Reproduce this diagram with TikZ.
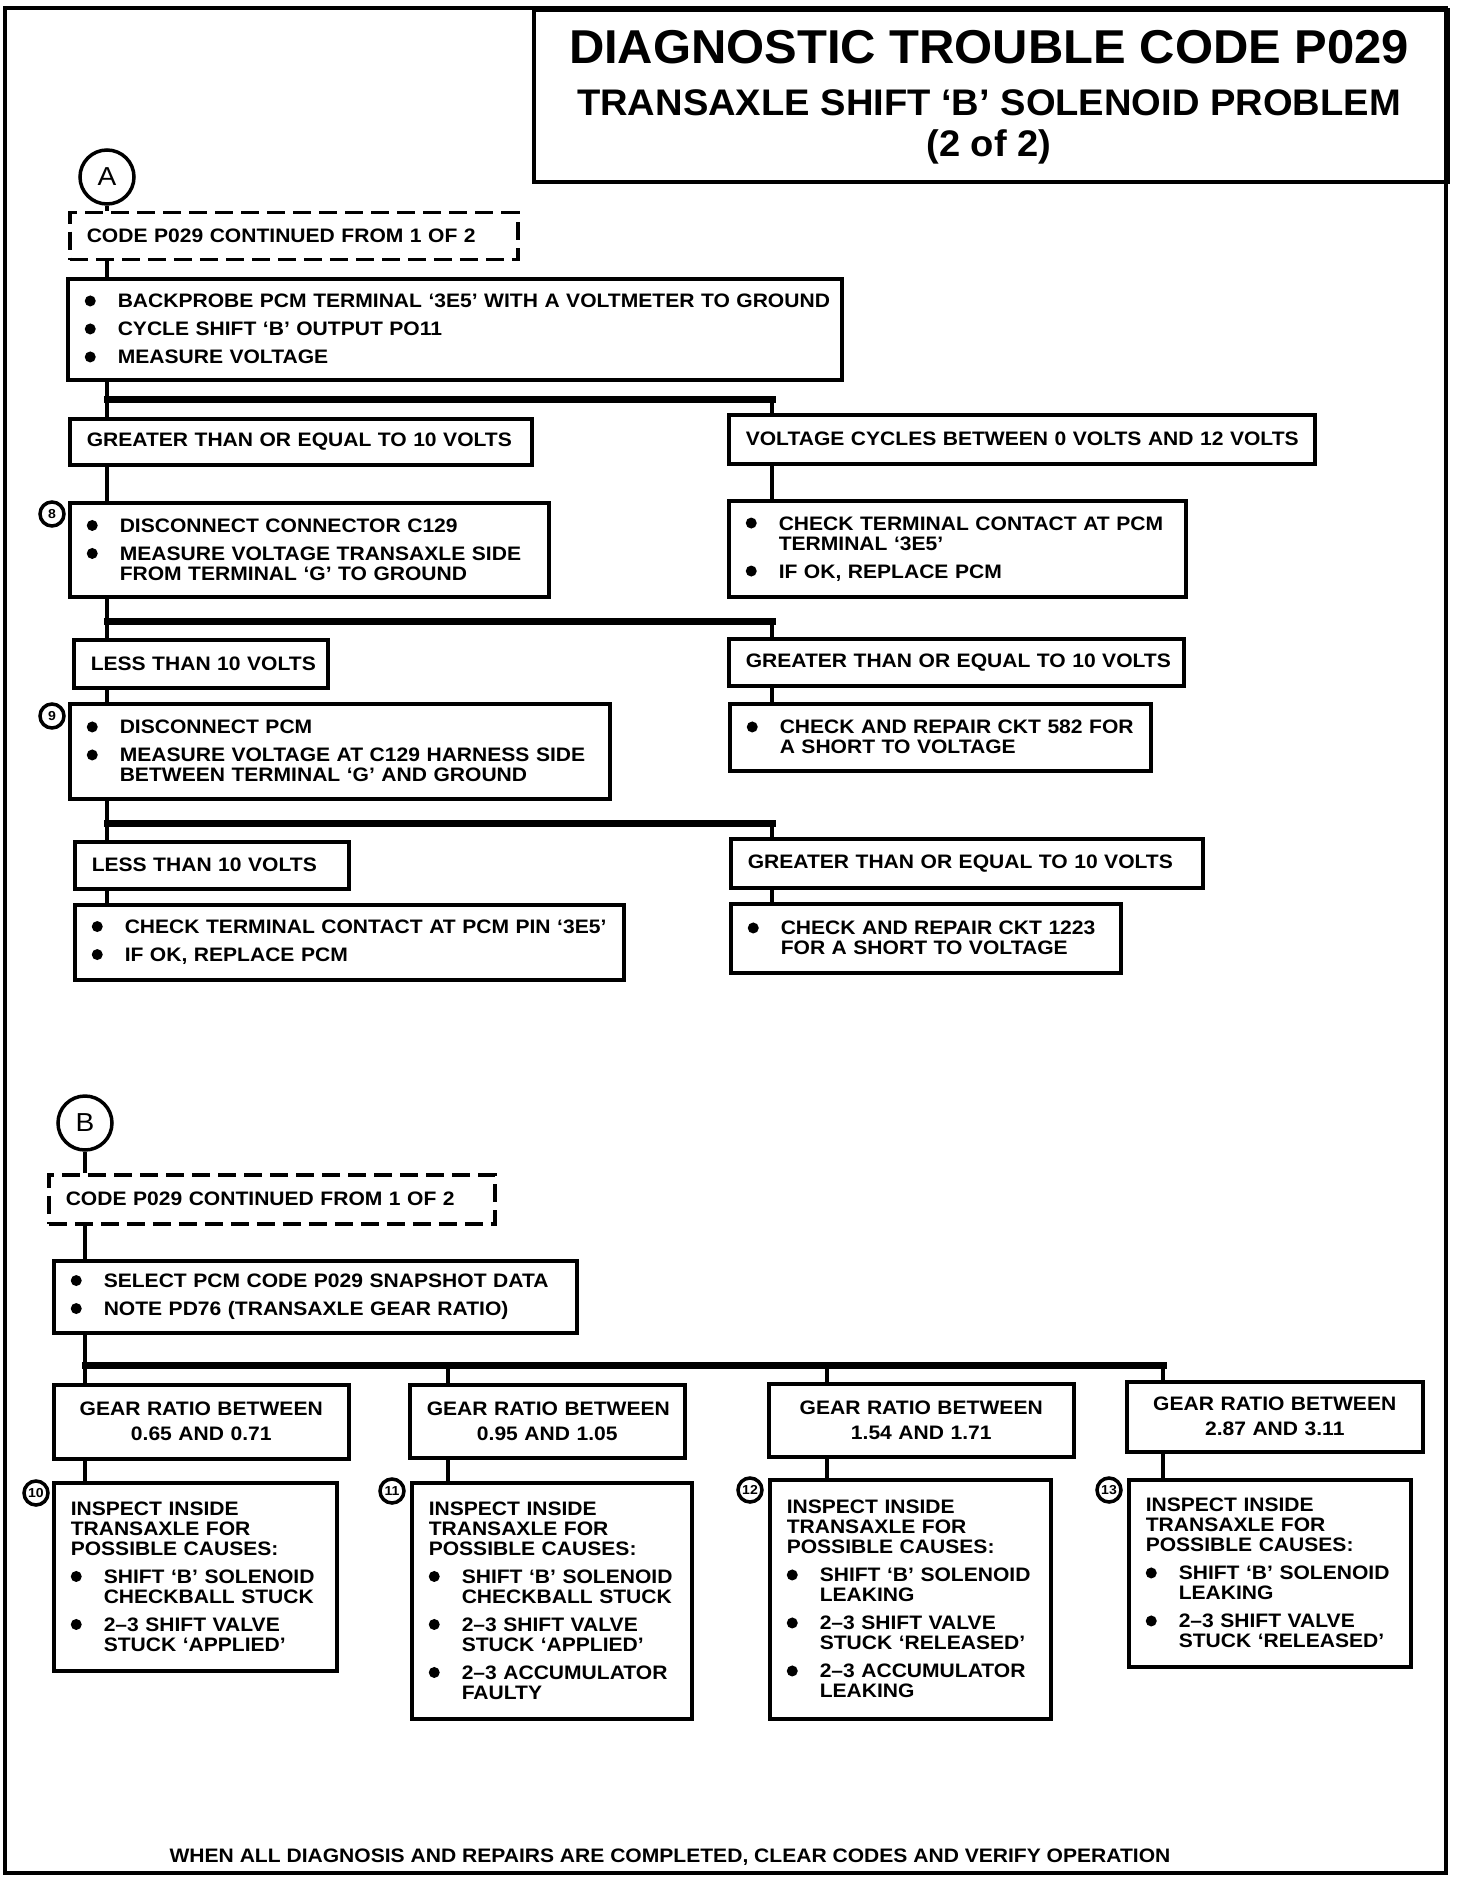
\documentclass[tikz,border=0pt]{standalone}
\usepackage{fontspec}
\setmainfont{Liberation Sans}
\newfontfamily\bodyfont{Liberation Sans}[FakeStretch=1.08]
\newfontfamily\headfont{Liberation Sans}[FakeStretch=1.03]
% punkt og indrykning
\newcommand{\bitem}[1]{\makebox[33pt][l]{\tikz[baseline=0pt]\fill (5.5pt,7pt) circle (5.5pt);}\mbox{#1}}
\newcommand{\bcont}[1]{\hspace*{33pt}\mbox{#1}}

\tikzset{
 box/.style={draw, line width=3.5pt, anchor=north west, inner xsep=17pt, inner ysep=0pt, align=left, font=\bodyfont\bfseries\fontsize{19.5}{20}\selectfont},
 dashbox/.style={box, dash pattern=on 18pt off 8pt},
 gearbox/.style={box, align=center},
 conn/.style={circle, draw, line width=3.5pt, fill=white, minimum size=54pt, inner sep=0pt, font=\bodyfont\fontsize{26}{26}\selectfont},
 num/.style={circle, draw, line width=3.5pt, fill=white, minimum size=24pt, inner sep=0pt, font=\bodyfont\bfseries\fontsize{13}{13}\selectfont},
 link/.style={line width=4.5pt},
 bar/.style={line width=7pt, line cap=rect}
}

\begin{document}
\begin{tikzpicture}[x=1pt, y=-1pt]
\useasboundingbox (0,0) rectangle (1472,1878);
% ramme og titel
\draw[line width=4pt] (5,8) rectangle (1446,1873);
\node[draw, line width=4pt, anchor=north west, minimum width=914pt, minimum height=172pt, inner sep=0pt] (titlebox) at (532,8) {};
\node[font=\headfont\bfseries\fontsize{47.5}{50}\selectfont] (title1) at (989,47) {DIAGNOSTIC TROUBLE CODE P029};
\node[font=\headfont\bfseries\fontsize{37}{40}\selectfont] (title2) at (989,103) {TRANSAXLE SHIFT ‘B’ SOLENOID PROBLEM};
\node[font=\headfont\bfseries\fontsize{37}{40}\selectfont] (title3) at (989,147) {(2 of 2)};

% del A
\node[conn] (A) at (107,177) {A};
\node[dashbox, text width=414pt, minimum height=47pt] (cont1) at (68,211) {\mbox{CODE P029 CONTINUED FROM 1 OF 2}};
\node[box, text width=740pt, minimum height=101pt] (probe) at (66,277) {\bitem{BACKPROBE PCM TERMINAL ‘3E5’ WITH A VOLTMETER TO GROUND}\\[8pt]
 \bitem{CYCLE SHIFT ‘B’ OUTPUT PO11}\\[8pt]
 \bitem{MEASURE VOLTAGE}};

\node[box, text width=428pt, minimum height=46pt] (ge1) at (68,417) {\mbox{GREATER THAN OR EQUAL TO 10 VOLTS}};
\node[box, text width=552pt, minimum height=49pt] (vc) at (727,413) {\mbox{VOLTAGE CYCLES BETWEEN 0 VOLTS AND 12 VOLTS}};
\node[box, text width=445pt, minimum height=94pt] (dis8) at (68,501) {\bitem{DISCONNECT CONNECTOR C129}\\[8pt]
 \bitem{MEASURE VOLTAGE TRANSAXLE SIDE}\\
 \bcont{FROM TERMINAL ‘G’ TO GROUND}};
\node[box, text width=423pt, minimum height=96pt] (ct) at (727,499) {\bitem{CHECK TERMINAL CONTACT AT PCM}\\
 \bcont{TERMINAL ‘3E5’}\\[8pt]
 \bitem{IF OK, REPLACE PCM}};

\node[box, text width=220pt, minimum height=48pt] (lt1) at (72,638) {\mbox{LESS THAN 10 VOLTS}};
\node[box, text width=421pt, minimum height=47pt] (ge2) at (727,637) {\mbox{GREATER THAN OR EQUAL TO 10 VOLTS}};
\node[box, text width=506pt, minimum height=95pt] (dis9) at (68,702) {\bitem{DISCONNECT PCM}\\[8pt]
 \bitem{MEASURE VOLTAGE AT C129 HARNESS SIDE}\\
 \bcont{BETWEEN TERMINAL ‘G’ AND GROUND}};
\node[box, text width=387pt, minimum height=67pt] (ckt582) at (728,702) {\bitem{CHECK AND REPAIR CKT 582 FOR}\\
 \bcont{A SHORT TO VOLTAGE}};

\node[box, text width=240pt, minimum height=47pt] (lt2) at (73,840) {\mbox{LESS THAN 10 VOLTS}};
\node[box, text width=438pt, minimum height=49pt] (ge3) at (729,837) {\mbox{GREATER THAN OR EQUAL TO 10 VOLTS}};
\node[box, text width=515pt, minimum height=75pt] (pin) at (73,903) {\bitem{CHECK TERMINAL CONTACT AT PCM PIN ‘3E5’}\\[8pt]
 \bitem{IF OK, REPLACE PCM}};
\node[box, text width=356pt, minimum height=69pt] (ckt1223) at (729,902) {\bitem{CHECK AND REPAIR CKT 1223}\\
 \bcont{FOR A SHORT TO VOLTAGE}};

\node[num] (n8) at (52,514) {8};
\node[num] (n9) at (52,716) {9};

% forbindelser A
\coordinate (j1) at (107,399);
\coordinate (k1) at (772,399);
\coordinate (j2) at (107,621);
\coordinate (k2) at (772,621);
\coordinate (j3) at (107,823);
\coordinate (k3) at (772,823);
\draw[link] (A.south) -- (cont1.north -| A);
\draw[link] (cont1.south -| A) -- (probe.north -| A);
\draw[link] (probe.south -| j1) -- (ge1.north -| j1);
\draw[link] (ge1.south -| j1) -- (dis8.north -| j1);
\draw[link] (dis8.south -| j2) -- (lt1.north -| j2);
\draw[link] (lt1.south -| j2) -- (dis9.north -| j2);
\draw[link] (dis9.south -| j3) -- (lt2.north -| j3);
\draw[link] (lt2.south -| j3) -- (pin.north -| j3);
\draw[bar] (j1) -- (k1);
\draw[bar] (j2) -- (k2);
\draw[bar] (j3) -- (k3);
\draw[link] (k1) -- (vc.north -| k1);
\draw[link] (vc.south -| k1) -- (ct.north -| k1);
\draw[link] (k2) -- (ge2.north -| k2);
\draw[link] (ge2.south -| k2) -- (ckt582.north -| k2);
\draw[link] (k3) -- (ge3.north -| k3);
\draw[link] (ge3.south -| k3) -- (ckt1223.north -| k3);

% del B
\node[conn] (B) at (85,1123) {B};
\node[dashbox, text width=412pt, minimum height=49pt] (cont2) at (47,1173) {\mbox{CODE P029 CONTINUED FROM 1 OF 2}};
\node[box, text width=489pt, minimum height=72pt] (snap) at (52,1259) {\bitem{SELECT PCM CODE P029 SNAPSHOT DATA}\\[8pt]
 \bitem{NOTE PD76 (TRANSAXLE GEAR RATIO)}};

\node[gearbox, text width=261pt, minimum height=74pt] (g1) at (52,1383) {\mbox{GEAR RATIO BETWEEN}\\[5pt] 0.65 AND 0.71};
\node[gearbox, text width=241pt, minimum height=73pt] (g2) at (408,1383) {\mbox{GEAR RATIO BETWEEN}\\[5pt] 0.95 AND 1.05};
\node[gearbox, text width=271pt, minimum height=73pt] (g3) at (767,1382) {\mbox{GEAR RATIO BETWEEN}\\[5pt] 1.54 AND 1.71};
\node[gearbox, text width=262pt, minimum height=70pt] (g4) at (1125,1380) {\mbox{GEAR RATIO BETWEEN}\\[5pt] 2.87 AND 3.11};

\node[box, text width=249pt, minimum height=188pt] (i1) at (52,1481) {\mbox{INSPECT INSIDE}\\
 \mbox{TRANSAXLE FOR}\\
 \mbox{POSSIBLE CAUSES:}\\[8pt]
 \bitem{SHIFT ‘B’ SOLENOID}\\
 \bcont{CHECKBALL STUCK}\\[8pt]
 \bitem{2–3 SHIFT VALVE}\\
 \bcont{STUCK ‘APPLIED’}};
\node[box, text width=246pt, minimum height=236pt] (i2) at (410,1481) {\mbox{INSPECT INSIDE}\\
 \mbox{TRANSAXLE FOR}\\
 \mbox{POSSIBLE CAUSES:}\\[8pt]
 \bitem{SHIFT ‘B’ SOLENOID}\\
 \bcont{CHECKBALL STUCK}\\[8pt]
 \bitem{2–3 SHIFT VALVE}\\
 \bcont{STUCK ‘APPLIED’}\\[8pt]
 \bitem{2–3 ACCUMULATOR}\\
 \bcont{FAULTY}};
\node[box, text width=247pt, minimum height=239pt] (i3) at (768,1478) {\mbox{INSPECT INSIDE}\\
 \mbox{TRANSAXLE FOR}\\
 \mbox{POSSIBLE CAUSES:}\\[8pt]
 \bitem{SHIFT ‘B’ SOLENOID}\\
 \bcont{LEAKING}\\[8pt]
 \bitem{2–3 SHIFT VALVE}\\
 \bcont{STUCK ‘RELEASED’}\\[8pt]
 \bitem{2–3 ACCUMULATOR}\\
 \bcont{LEAKING}};
\node[box, text width=248pt, minimum height=187pt] (i4) at (1127,1478) {\mbox{INSPECT INSIDE}\\
 \mbox{TRANSAXLE FOR}\\
 \mbox{POSSIBLE CAUSES:}\\[8pt]
 \bitem{SHIFT ‘B’ SOLENOID}\\
 \bcont{LEAKING}\\[8pt]
 \bitem{2–3 SHIFT VALVE}\\
 \bcont{STUCK ‘RELEASED’}};

\node[num] (n10) at (36,1493) {10};
\node[num] (n11) at (392,1491) {11};
\node[num] (n12) at (750,1490) {12};
\node[num] (n13) at (1109,1490) {13};

% forbindelser B
\coordinate (j4) at (85,1365);
\coordinate (k4) at (1163,1365);
\coordinate (v2) at (448,1365);
\coordinate (v3) at (827,1365);
\draw[link] (B.south) -- (cont2.north -| B);
\draw[link] (cont2.south -| B) -- (snap.north -| B);
\draw[link] (snap.south -| j4) -- (g1.north -| j4);
\draw[bar] (j4) -- (k4);
\draw[link] (v2) -- (g2.north -| v2);
\draw[link] (v3) -- (g3.north -| v3);
\draw[link] (k4) -- (g4.north -| k4);
\draw[link] (g1.south -| j4) -- (i1.north -| j4);
\draw[link] (g2.south -| v2) -- (i2.north -| v2);
\draw[link] (g3.south -| v3) -- (i3.north -| v3);
\draw[link] (g4.south -| k4) -- (i4.north -| k4);

\node[font=\bodyfont\bfseries\fontsize{19.5}{20}\selectfont] (foot) at (670,1857) {WHEN ALL DIAGNOSIS AND REPAIRS ARE COMPLETED, CLEAR CODES AND VERIFY OPERATION};
\end{tikzpicture}
\end{document}
